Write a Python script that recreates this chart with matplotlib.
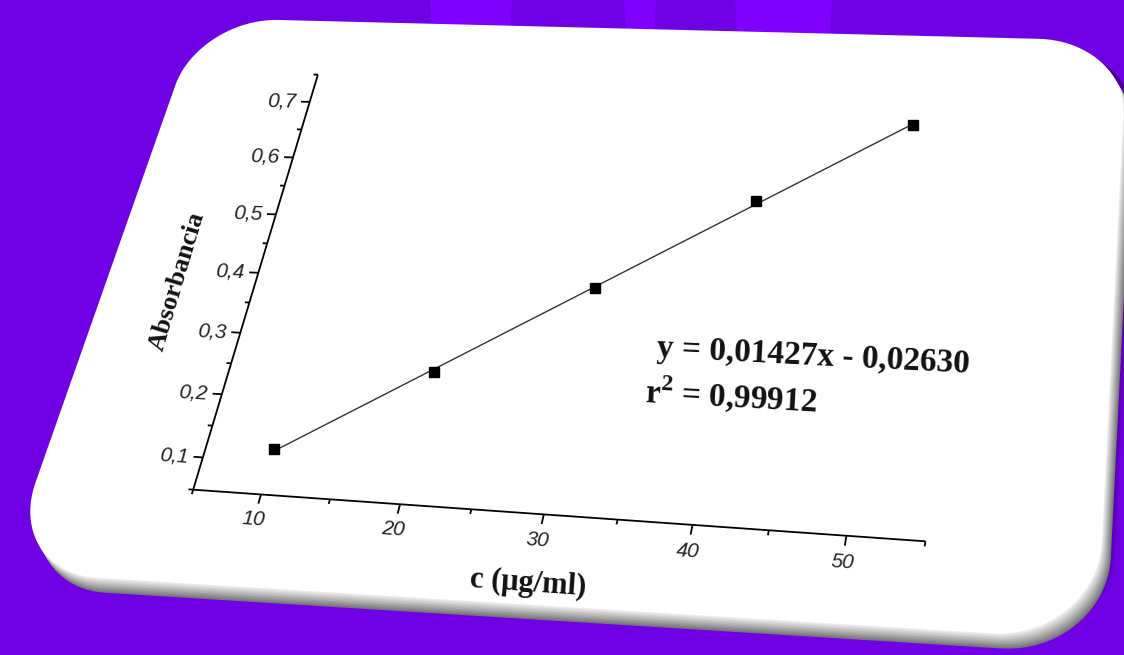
import numpy as np
import matplotlib
matplotlib.use('Agg')
import matplotlib.pyplot as plt
import matplotlib.transforms as mtransforms
from matplotlib.patches import Polygon

# calibration curve data
conc = [10, 20, 30, 40, 50]
absorb = [0.120, 0.254, 0.399, 0.551, 0.685]

x_range = (5, 55)
y_range = (0.05, 0.75)
x_major = [10, 20, 30, 40, 50]
x_minor = [5, 15, 25, 35, 45, 55]
y_major = [0.1, 0.2, 0.3, 0.4, 0.5, 0.6, 0.7]
y_minor = [0.05, 0.15, 0.25, 0.35, 0.45, 0.55, 0.65, 0.75]
x_ticklabels = ['10', '20', '30', '40', '50']
y_ticklabels = ['0,1', '0,2', '0,3', '0,4', '0,5', '0,6', '0,7']

xlabel = 'c (\u03bcg/ml)'
ylabel = 'Absorbancia'
eq_text = 'y = 0,01427x - 0,02630'
r2_text = r'r$^{\mathbf{2}}$ = 0,99912'

W, H = 1124, 655
PURPLE = '#7000e4'
PURPLE_LIGHT = '#8000ff'


def fit_homography(src, dst):
    rows = []
    for (x, y), (X, Y) in zip(src, dst):
        rows.append([-x, -y, -1, 0, 0, 0, x * X, y * X, X])
        rows.append([0, 0, 0, -x, -y, -1, x * Y, y * Y, Y])
    _, _, vt = np.linalg.svd(np.array(rows, float))
    m = vt[-1].reshape(3, 3)
    return m / m[2, 2]


class Perspective(mtransforms.Transform):
    input_dims = 2
    output_dims = 2
    is_separable = False
    has_inverse = False

    def __init__(self, m):
        super().__init__()
        self.m = np.asarray(m, float)

    def transform_non_affine(self, values):
        v = np.asarray(values, float).reshape(-1, 2)
        p = v @ self.m[:, :2].T + self.m[:, 2]
        return p[:, :2] / p[:, 2:3]


# where the (tilted) chart sits on the picture, in pixels
x0, x1 = x_range
y0, y1 = y_range
calib_data = [(5, y0), (10, y0), (20, y0), (40, y0), (50, y0), (55, y0),
              (x0, 0.1), (x0, 0.2), (x0, 0.4), (x0, 0.6), (x0, 0.7), (x0, 0.75),
              (55, 0.75)]
calib_px = [(193, 490), (260, 495), (401, 505), (693, 525), (846, 536), (925, 541),
            (203, 457), (222, 393), (259, 272), (293, 158), (309, 102), (318, 75),
            (992, 88)]
norm = np.array([[1 / (x1 - x0), 0, -x0 / (x1 - x0)],
                 [0, 1 / (y1 - y0), -y0 / (y1 - y0)],
                 [0, 0, 1]])
unit = [((x - x0) / (x1 - x0), (y - y0) / (y1 - y0)) for x, y in calib_data]
H_chart = fit_homography(unit, calib_px) @ norm

# card (white rounded panel) corners in pixels
card_corners = [(199, 18), (1127, 41), (1097, 640), (4, 572)]
H_card = fit_homography([(0, 0), (1, 0), (1, 1), (0, 1)], card_corners)


def rounded_rect(rx, ry, n=24):
    pts = []
    for cx, cy, a0 in [(rx, ry, 180), (1 - rx, ry, 270), (1 - rx, 1 - ry, 0), (rx, 1 - ry, 90)]:
        t = np.radians(np.linspace(a0, a0 + 90, n))
        pts.append(np.column_stack([cx + rx * np.cos(t), cy + ry * np.sin(t)]))
    return np.vstack(pts)


fig = plt.figure(figsize=(W / 100, H / 100), dpi=100)
fig.patch.set_facecolor(PURPLE)
ax = fig.add_axes([0, 0, 1, 1])
ax.set_xlim(0, W)
ax.set_ylim(H, 0)
ax.axis('off')
ax.set_facecolor(PURPLE)

# lighter beams on the background
for bx0, bx1 in [(430, 512), (624, 656), (735, 832)]:
    ax.add_patch(Polygon([(bx0, 0), (bx1, 0), (bx1 - 4, 70), (bx0 + 4, 70)],
                         closed=True, color=PURPLE_LIGHT, lw=0, zorder=0))

card_tr = Perspective(H_card)
card_pts = card_tr.transform(rounded_rect(0.09, 0.14))

# soft drop shadow
for k in range(1, 9):
    ax.add_patch(Polygon(card_pts + [4 + k * 1.3, 3 + k * 1.0], closed=True,
                         color='black', alpha=0.06, lw=0, zorder=1))
# bevelled grey edge along bottom and right
n_bevel = 10
for k in range(n_bevel, 0, -1):
    g = 0.97 - 0.5 * k / n_bevel
    ax.add_patch(Polygon(card_pts + [k * 0.9, k * 1.5], closed=True,
                         color=(g, g, g), lw=0, zorder=2))
ax.add_patch(Polygon(card_pts, closed=True, color='white', lw=0, zorder=3))

trans = Perspective(H_chart) + ax.transData


def local_angle(x, y, dx, dy):
    p0 = trans.transform((x, y))
    p1 = trans.transform((x + dx, y + dy))
    return np.degrees(np.arctan2(p1[1] - p0[1], p1[0] - p0[0]))


line_kw = dict(transform=trans, color='black', lw=1.3, solid_capstyle='butt', zorder=5)

# axes lines
ax.plot([x0, x1], [y0, y0], **line_kw)
ax.plot([x0, x0], [y0, y1], **line_kw)

# ticks
for xv in x_major:
    ax.plot([xv, xv], [y0, y0 - 0.014], **line_kw)
for xv in x_minor:
    ax.plot([xv, xv], [y0, y0 - 0.007], **line_kw)
for yv in y_major:
    ax.plot([x0, x0 - 0.7], [yv, yv], **line_kw)
for yv in y_minor:
    ax.plot([x0, x0 - 0.35], [yv, yv], **line_kw)

tick_font = dict(family='Liberation Sans', style='italic', size=15, color='#222222')
for xv, lab in zip(x_major, x_ticklabels):
    ax.text(xv, y0 - 0.038, lab, transform=trans, ha='center', va='center',
            rotation=local_angle(xv, y0, 1, 0), rotation_mode='anchor', zorder=6, **tick_font)
for yv, lab in zip(y_major, y_ticklabels):
    ax.text(x0 - 1.05, yv, lab, transform=trans, ha='right', va='center',
            rotation=local_angle(x0, yv, 1, 0), rotation_mode='anchor', zorder=6, **tick_font)

label_font = dict(family='Liberation Serif', weight='bold', color='#111111')
ax.text(30, y0 - 0.1, xlabel, transform=trans, ha='center', va='center', size=22,
        rotation=local_angle(30, y0, 1, 0), rotation_mode='anchor', zorder=6, **label_font)
ax.text(-1.0, 0.38, ylabel, transform=trans, ha='center', va='center', size=19,
        rotation=local_angle(x0, 0.38, 0, 0.01), rotation_mode='anchor', zorder=6, **label_font)

# linear fit
coef = np.polyfit(conc, absorb, 1)
fit_x = np.array([min(conc), max(conc)])
ax.plot(fit_x, np.polyval(coef, fit_x), transform=trans, color='#333333', lw=1.0, zorder=7)
ax.plot(conc, absorb, 's', ms=7.5, color='black', transform=trans, zorder=8)

plt.rcParams['mathtext.fontset'] = 'custom'
plt.rcParams['mathtext.bf'] = 'Liberation Serif:bold'
plt.rcParams['mathtext.rm'] = 'Liberation Serif:bold'
ax.text(35.2, 0.308, eq_text, transform=trans, ha='left', va='center', size=24,
        rotation=local_angle(42, 0.31, 1, 0), rotation_mode='anchor', zorder=6, **label_font)
ax.text(35.0, 0.242, r2_text, transform=trans, ha='left', va='center', size=24,
        rotation=local_angle(40, 0.24, 1, 0), rotation_mode='anchor', zorder=6, **label_font)

fig.savefig('out.png', dpi=100, facecolor=fig.get_facecolor())
